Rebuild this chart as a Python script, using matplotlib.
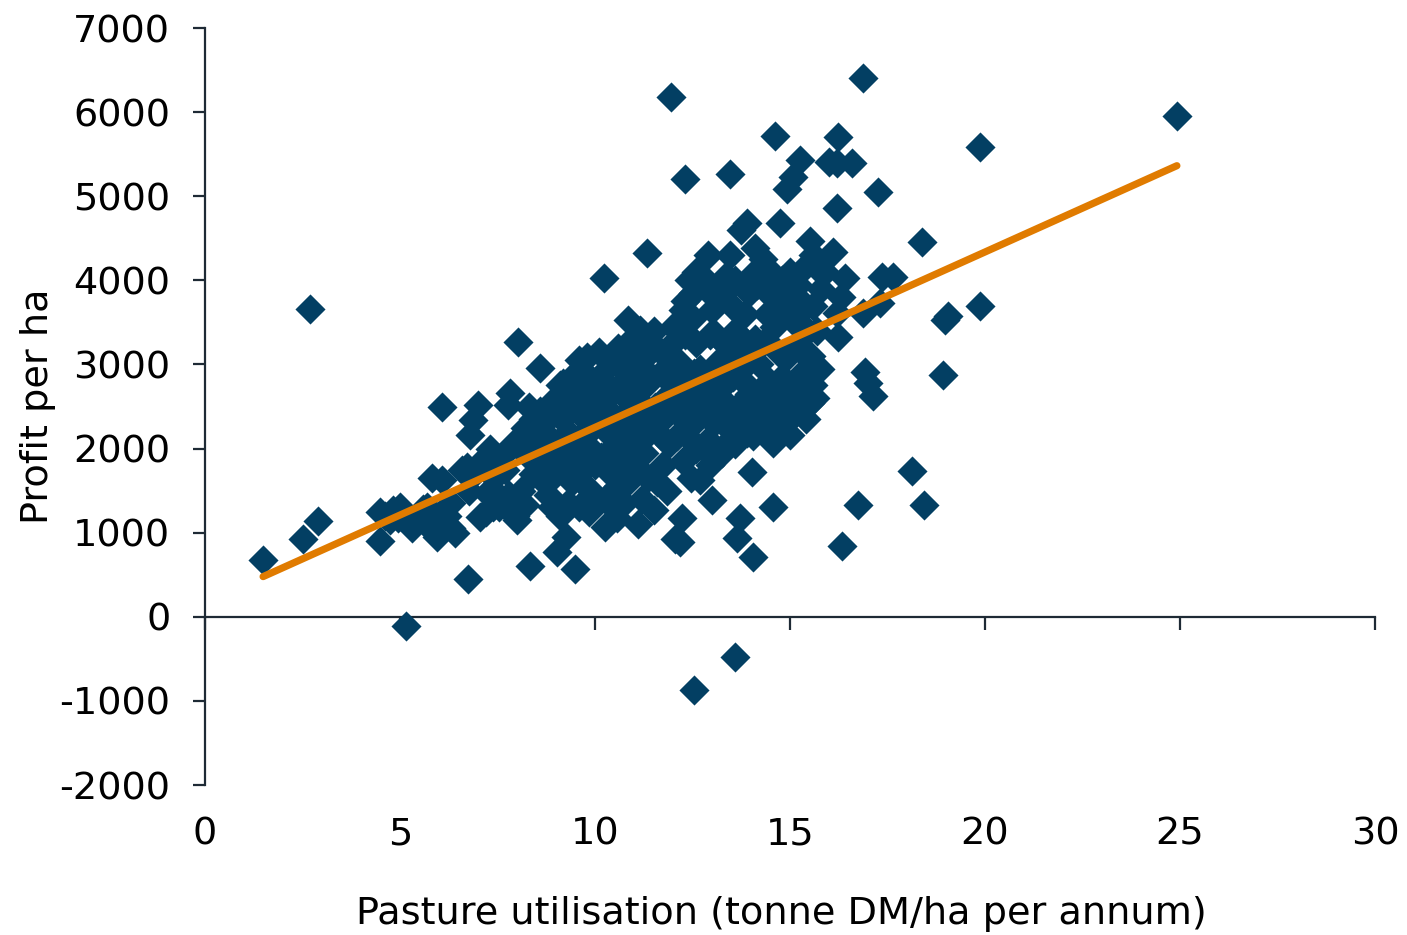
import matplotlib
matplotlib.use("Agg")
import matplotlib.pyplot as plt
import numpy as np

# ---- data ----
farms_below_8 = [
    (1.49, 680), (2.51, 930), (2.69, 3660), (2.90, 1140),
    (4.49, 900), (4.49, 1240), (4.62, 1200), (4.82, 1270), (4.75, 1150), (5.0, 1300), (4.95, 1180), (5.15, -110),
    (5.2, 1150), (5.3, 1050), (5.45, 1200), (5.6, 1280), (5.7, 1300), (5.82, 1650), (5.9, 1000), (5.95, 950), (5.85, 1150),
    (6.08, 2500), (6.08, 1630), (6.2, 1200), (6.3, 1050), (6.4, 1000), (6.3, 1350), (6.74, 450),
    (6.6, 1750), (6.72, 1780), (6.8, 2160), (6.87, 2340), (7.0, 2520), (6.78, 1500), (6.9, 1700),
    (7.05, 1190), (7.23, 1475), (7.38, 1310), (7.1, 1850), (7.3, 2000), (7.4, 1650), (7.2, 1250), (7.5, 1450),
    (7.77, 2520), (7.82, 2660), (7.6, 1900), (7.7, 1750), (7.8, 1450), (7.55, 1300), (7.9, 2050), (7.65, 1350), (7.95, 1200),
]
farms_8_to_11 = [
    (8.03, 3270), (8.59, 2960), (8.33, 600), (8.0, 1150), (8.2, 1330),
    (8.1, 2100), (8.2, 2250), (8.3, 1900), (8.4, 1700), (8.4, 2350), (8.1, 1500), (8.5, 2000), (8.3, 2500),
    (8.6, 2200), (8.7, 1600), (8.8, 1450), (8.9, 2400), (8.7, 1800), (9.0, 2600), (8.9, 1300), (8.6, 2450), (8.75, 2050),
    (9.03, 770), (9.26, 950), (9.49, 570),
    (9.1, 2750), (9.18, 2780), (9.2, 2500), (9.3, 2200), (9.2, 1900), (9.4, 1600), (9.3, 1350), (9.1, 1200), (9.45, 2000), (9.5, 2900), (9.35, 1750),
    (9.6, 3050), (9.8, 3090), (9.7, 2700), (9.8, 2400), (9.65, 2150), (9.9, 2000), (9.7, 1750), (9.9, 1500), (9.75, 2900), (10.0, 2650), (9.6, 1300), (9.85, 1250),
    (10.23, 4030), (10.26, 1070), (10.56, 1180),
    (10.1, 2850), (10.2, 2500), (10.3, 2200), (10.15, 1900), (10.4, 1700), (10.25, 1400), (10.45, 1300), (10.4, 3000), (10.5, 2700), (10.05, 2300), (10.35, 1950),
    (10.6, 3200), (10.85, 3530), (10.7, 2950), (10.8, 2600), (10.65, 2350), (10.9, 2100), (10.7, 1850), (10.85, 1600), (10.75, 1350), (11.0, 2800), (10.95, 3300), (10.6, 1550), (10.9, 2450),
]
farms_11_to_14 = [
    (11.15, 3410), (11.1, 3300), (11.2, 3050), (11.3, 2750), (11.15, 2450), (11.4, 2200), (11.25, 1950), (11.35, 1650), (11.2, 1400), (11.5, 1270), (11.33, 4330), (11.5, 3400), (11.05, 1780), (11.1, 1100),
    (11.6, 3200), (11.7, 2900), (11.8, 2600), (11.65, 2300), (11.9, 2050), (11.75, 1800), (11.85, 1500), (12.0, 3450), (12.0, 2800), (11.95, 6180), (11.6, 1600),
    (12.1, 3300), (12.26, 3650), (12.2, 3000), (12.3, 3750), (12.4, 2700), (12.15, 2400), (12.35, 2150), (12.25, 1850), (12.45, 1650), (12.5, 3550), (12.4, 4000),
    (12.05, 920), (12.18, 890), (12.23, 1180), (12.31, 5200), (12.54, -870),
    (12.6, 3250), (12.7, 2950), (12.8, 2650), (12.65, 2350), (12.9, 2100), (12.7, 1630), (12.95, 1800), (12.85, 3900), (13.0, 3650), (12.6, 4100), (13.0, 1390), (12.8, 2000),
    (13.1, 3350), (13.2, 3050), (13.3, 2750), (13.15, 2450), (13.4, 2250), (13.25, 1950), (13.45, 4300), (13.35, 4050), (13.5, 3700), (13.2, 2600), (13.46, 5270), (13.1, 3900),
    (13.6, 3400), (13.7, 3100), (13.8, 2800), (13.65, 2500), (13.9, 2190), (13.75, 4600), (13.95, 3850), (13.85, 3600), (13.59, -480), (13.64, 940), (13.72, 1180), (13.9, 4680), (13.6, 2050),
]
farms_above_14 = [
    (14.03, 1720), (14.05, 710), (14.56, 1310), (14.62, 5720),
    (14.1, 3300), (14.2, 3000), (14.3, 2700), (14.15, 2400), (14.4, 2200), (14.1, 4390), (14.15, 3950), (14.4, 3600), (14.5, 4100), (14.56, 2070),
    (14.6, 3450), (14.7, 3150), (14.8, 2850), (14.65, 2550), (14.9, 2300), (14.74, 4680), (14.8, 4000), (15.0, 3800), (14.8, 2220), (14.92, 5080), (15.08, 5230), (15.26, 5430),
    (15.1, 3500), (15.2, 3200), (15.3, 2900), (15.15, 2650), (15.4, 3700), (15.5, 4470), (15.35, 4150), (15.5, 2545), (15.45, 3400), (15.0, 2160),
    (15.6, 3700), (15.7, 3400), (15.77, 2940), (15.6, 2750), (15.9, 4100), (15.8, 3900),
    (16.0, 5410), (16.2, 5400), (16.6, 5390), (16.23, 5710), (16.2, 4860), (16.1, 4340), (16.2, 3615), (16.23, 3330), (16.4, 4030), (16.3, 3800), (16.33, 840), (16.74, 1330),
    (16.87, 6400), (16.87, 3615), (16.92, 2910), (17.13, 2620), (17.0, 2780), (17.26, 5050), (17.3, 3730), (17.36, 4040), (17.64, 4040),
    (18.13, 1730), (18.38, 4450), (18.44, 1330), (18.92, 2880), (18.97, 3530), (19.05, 3580), (19.87, 3700), (19.87, 5590), (24.92, 5950),
]
farms_core = [
    (8.5, 2300), (8.8, 2150), (9.0, 2000), (9.0, 1700), (9.15, 2350), (9.4, 2550), (9.55, 2450), (9.6, 1900),
    (9.95, 2250), (10.0, 1800), (10.1, 3150), (10.3, 2650), (10.45, 2400), (10.55, 2050), (10.7, 2200), (10.8, 3100),
    (11.0, 2250), (11.05, 2600), (11.0, 1950), (11.3, 2350), (11.45, 2850), (11.55, 2500), (11.4, 3150), (11.7, 2150),
    (11.85, 2450), (11.9, 3100), (12.05, 2600), (12.1, 2150), (12.2, 2750), (12.3, 3350), (12.45, 2450), (12.55, 2900),
    (12.6, 2000), (12.75, 2500), (12.9, 2750), (12.95, 3350), (13.05, 2300), (13.1, 2900), (13.3, 3250), (13.35, 2050),
    (13.45, 2500), (13.55, 2850), (13.7, 2300), (13.8, 3300), (13.95, 2650), (14.0, 3050), (14.05, 2150), (14.25, 2500),
    (14.3, 3250), (14.45, 2800), (14.5, 2450), (14.55, 3800), (14.7, 2700), (14.85, 3600), (14.95, 3100), (15.05, 2450),
    (15.2, 2800), (15.3, 3450), (15.4, 2350), (15.55, 3100), (15.65, 2600), (15.0, 4100), (15.2, 3950), (15.6, 4300),
    (15.7, 4150), (14.3, 4250), (14.0, 4050), (13.6, 4000), (13.3, 3850), (12.9, 4300), (12.75, 4050), (12.5, 3850),
]
trend_slope = 208.5      # profit per tonne DM/ha
trend_intercept = 167.0  # profit at zero utilisation

x_ticks = [0, 5, 10, 15, 20, 25, 30]
y_ticks = [-2000, -1000, 0, 1000, 2000, 3000, 4000, 5000, 6000, 7000]
x_label = "Pasture utilisation (tonne DM/ha per annum)"
y_label = "Profit per ha"

# ---- drawing ----
all_points = farms_below_8 + farms_8_to_11 + farms_11_to_14 + farms_above_14 + farms_core
util = np.array([p[0] for p in all_points])
profit = np.array([p[1] for p in all_points])

marker_color = "#033F63"
trend_color = "#E07B00"
axis_color = "#1E2A35"

fig = plt.figure(figsize=(14.07, 9.35), dpi=100)
ax = fig.add_axes([205 / 1407, (935 - 785) / 935, (1375 - 205) / 1407, (785 - 28) / 935])

ax.scatter(util, profit, marker="D", s=235, color=marker_color, linewidths=0, zorder=2)

tx = np.array([util.min(), util.max()])
ax.plot(tx, trend_intercept + trend_slope * tx, color=trend_color, lw=5.2,
        solid_capstyle="round", zorder=3)

ax.set_xlim(x_ticks[0], x_ticks[-1])
ax.set_ylim(y_ticks[0], y_ticks[-1])

for s in ["top", "right", "bottom"]:
    ax.spines[s].set_visible(False)
ax.spines["left"].set_color(axis_color)
ax.spines["left"].set_linewidth(1.6)

ax.set_yticks(y_ticks)
ax.set_yticklabels([str(v) for v in y_ticks])
ax.tick_params(axis="y", direction="out", length=9, width=1.6, color=axis_color,
               labelsize=27.5, pad=16)

# x labels at the bottom, with no tick marks there
ax.set_xticks(x_ticks)
ax.set_xticklabels([str(v) for v in x_ticks])
ax.tick_params(axis="x", length=0, labelsize=27.5, pad=23)

# zero line axis with downward tick marks
sec = ax.secondary_xaxis(0, transform=ax.transData)
sec.set_xticks(x_ticks)
sec.tick_params(axis="x", direction="out", length=9, width=1.6, color=axis_color,
                labelbottom=False)
sec.spines["bottom"].set_color(axis_color)
sec.spines["bottom"].set_linewidth(1.6)

ax.set_xlabel(x_label, fontsize=27.5, labelpad=31)
ax.xaxis.label.set_x(0.493)
ax.set_ylabel(y_label, fontsize=27.5, labelpad=2)

fig.savefig("out.png", dpi=100)
